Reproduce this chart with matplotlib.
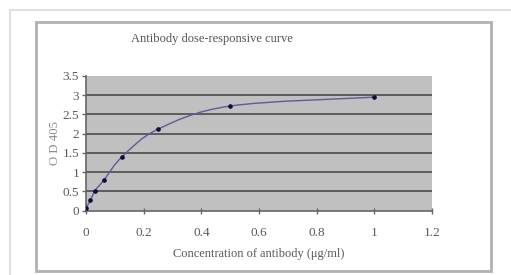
import numpy as np
import matplotlib
matplotlib.use("Agg")
import matplotlib.pyplot as plt
from matplotlib.path import Path
from matplotlib.patches import PathPatch, Rectangle

# dados
conc = [0.0, 0.0156, 0.03125, 0.0625, 0.125, 0.25, 0.5, 1.0]
od405 = [0.08, 0.27, 0.52, 0.80, 1.40, 2.12, 2.72, 2.95]
xticks = [0, 0.2, 0.4, 0.6, 0.8, 1, 1.2]
xticklabels = ["0", "0.2", "0.4", "0.6", "0.8", "1", "1.2"]
yticks = [0, 0.5, 1, 1.5, 2, 2.5, 3, 3.5]
yticklabels = ["0", "0.5", "1", "1.5", "2", "2.5", "3", "3.5"]

serif = "Liberation Serif"
txt_col = "#5a5a5a"


def smooth_path(xs, ys):
    # linha suavizada estilo Excel (Bezier a partir dos pontos)
    pts = np.column_stack([xs, ys])
    n = len(pts)
    verts = [pts[0]]
    codes = [Path.MOVETO]
    for i in range(n - 1):
        p0 = pts[i - 1] if i > 0 else pts[i]
        p1 = pts[i]
        p2 = pts[i + 1]
        p3 = pts[i + 2] if i + 2 < n else pts[i + 1]
        c1 = p1 + (p2 - p0) / 6.0
        c2 = p2 - (p3 - p1) / 6.0
        verts += [c1, c2, p2]
        codes += [Path.CURVE4] * 3
    return Path(verts, codes)


fig = plt.figure(figsize=(5.11, 2.75), dpi=100)
fig.patch.set_facecolor("white")

# molduras externas
fig.add_artist(Rectangle((10 / 511, -0.1), 1.2, 1 - 10 / 275 + 0.1,
                         transform=fig.transFigure, fill=False,
                         edgecolor="#e0e0e0", linewidth=1.5))
fig.add_artist(Rectangle((36 / 511, 1 - 271 / 275), (491 - 36) / 511, (271 - 22) / 275,
                         transform=fig.transFigure, fill=False,
                         edgecolor="#b0b0b0", linewidth=2))

ax = fig.add_axes([86 / 511, 1 - 210.7 / 275, 346 / 511, 134.7 / 275])
ax.set_facecolor("#c0c0c0")
ax.set_xlim(0, 1.2)
ax.set_ylim(0, 3.5)

for y in yticks[1:-1]:
    ax.axhline(y, color="#555555", linewidth=1.3, zorder=1)

ax.add_patch(PathPatch(smooth_path(conc, od405), fill=False,
                       edgecolor="#5b5b9e", linewidth=1.0, zorder=3))
ax.plot(conc, od405, linestyle="none", marker="o", markersize=2.3,
        color="#0a0a40", zorder=4)

for s in ["top", "right"]:
    ax.spines[s].set_visible(False)
for s in ["left", "bottom"]:
    ax.spines[s].set_color("#666666")
    ax.spines[s].set_linewidth(1.2)

ax.set_xticks(xticks)
ax.set_xticklabels(xticklabels)
ax.set_yticks(yticks)
ax.set_yticklabels(yticklabels)
ax.tick_params(axis="x", direction="inout", length=5, width=1, color="#666666",
               labelsize=9.5, labelcolor=txt_col, pad=9)
ax.tick_params(axis="y", direction="out", length=3, width=1, color="#666666",
               labelsize=9.5, labelcolor=txt_col, pad=2)
for lab in ax.get_xticklabels() + ax.get_yticklabels():
    lab.set_fontfamily(serif)

ax.set_xlabel("Concentration of antibody (μg/ml)", fontsize=8.9, color=txt_col,
              fontfamily=serif, labelpad=7)
ax.set_ylabel("O D 405", fontsize=9.2, color="#8a8a8a", fontfamily=serif, labelpad=1)

fig.text(212 / 511, 1 - 39 / 275, "Antibody dose-responsive curve", fontsize=9,
         color="#555555", fontfamily=serif, ha="center", va="center")

fig.savefig("out.png", dpi=100)
